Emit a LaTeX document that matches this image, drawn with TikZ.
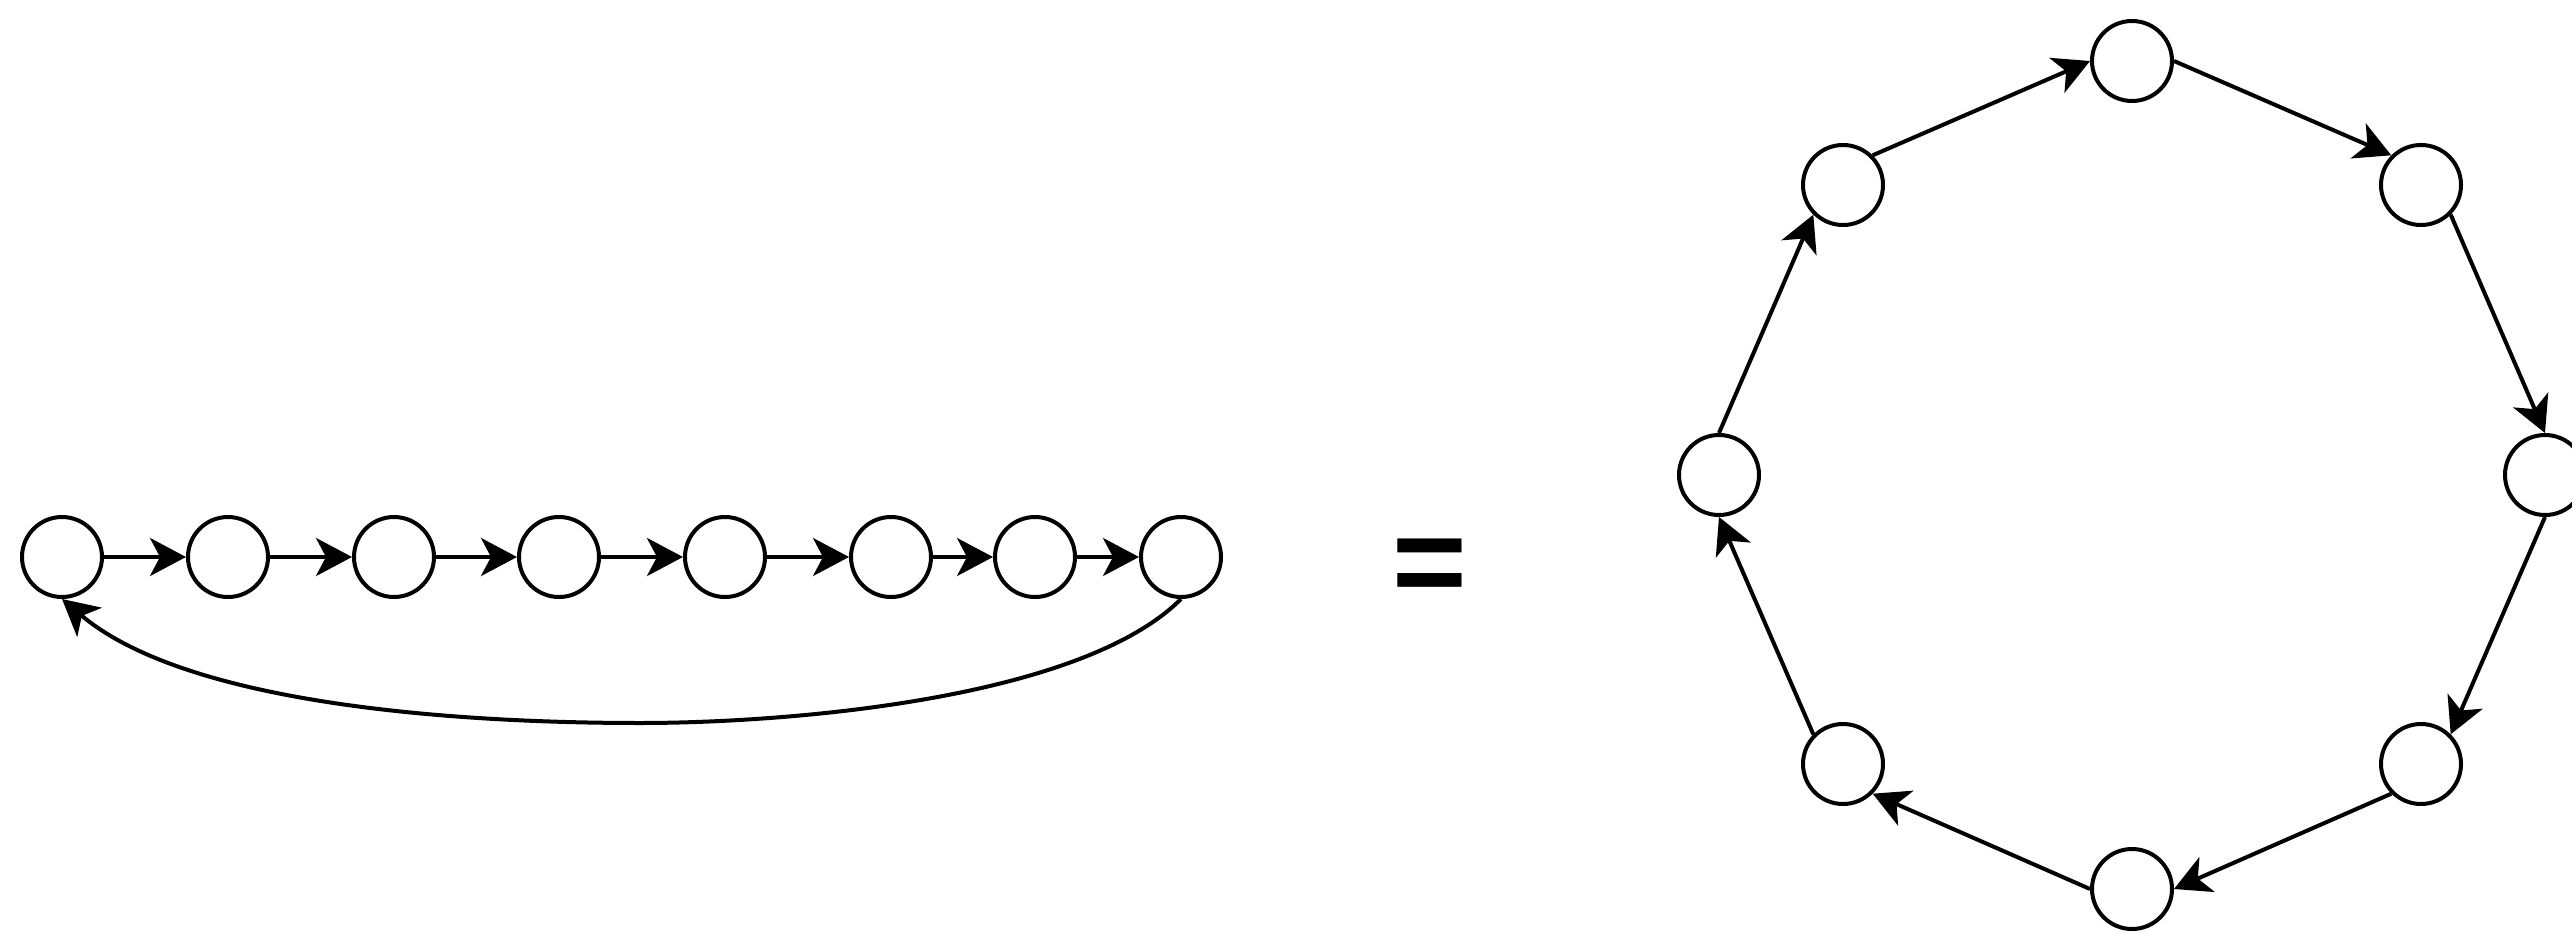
\documentclass[tikz,border=0pt]{standalone}
\usepackage{fontspec}
\setmainfont{Liberation Sans}
\usetikzlibrary{arrows.meta}
\begin{document}
\begin{tikzpicture}[x=0.25pt,y=-0.25pt,
  vtx/.style={circle,draw,line width=1pt,minimum size=20pt,inner sep=0pt,fill=white},
  link/.style={line width=1pt,-{Stealth[length=9pt,width=9.5pt,inset=2.5pt]}},
  eqsign/.style={font=\fontsize{32}{32}\selectfont\bfseries,inner sep=0pt,anchor=base}]
\path[use as bounding box] (0,0) rectangle (2572,932);

% linear chain
\foreach \i/\x in {1/62,2/228,3/394,4/559,5/725,6/891,7/1035,8/1181}
  \node[vtx] (c\i) at (\x,557) {};
\foreach \i/\j in {1/2,2/3,3/4,4/5,5/6,6/7,7/8}
  \draw[link] (c\i.east) -- (c\j.west);
% closing edge, passing under the chain
\coordinate (low) at (640,723);
\draw[link] (c8.south) .. controls +(-100,100) and +(150,0) .. (low)
  .. controls +(-160,0) and +(130,110) .. (c1.south);

% equals sign
\node[eqsign] (eq) at (1430,605) {=};

% ring of eight vertices
\node[vtx] (t)  at (2132,61)  {};
\node[vtx] (ur) at (2421,185) {};
\node[vtx] (r)  at (2545,475) {};
\node[vtx] (lr) at (2421,764) {};
\node[vtx] (b)  at (2132,889) {};
\node[vtx] (ll) at (1843,764) {};
\node[vtx] (l)  at (1719,475) {};
\node[vtx] (ul) at (1843,185) {};
\draw[link] (ul.north east) -- (t.west);
\draw[link] (t.east) -- (ur.north west);
\draw[link] (ur.south east) -- (r.north);
\draw[link] (r.south) -- (lr.north east);
\draw[link] (lr.south west) -- (b.east);
\draw[link] (b.west) -- (ll.south east);
\draw[link] (ll.north west) -- (l.south);
\draw[link] (l.north) -- (ul.south west);
\end{tikzpicture}
\end{document}
